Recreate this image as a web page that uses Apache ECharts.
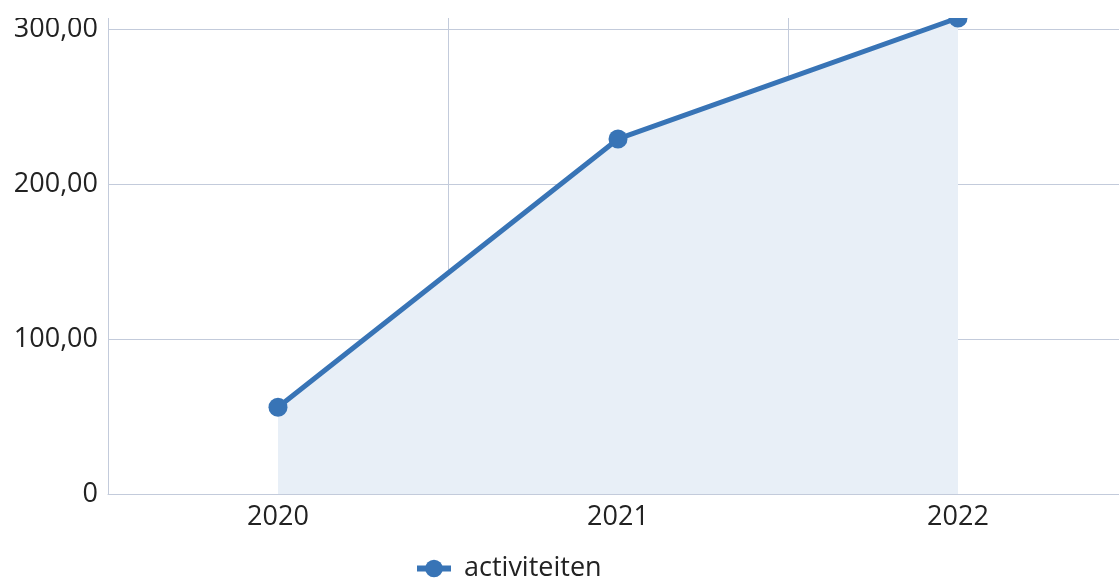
<!DOCTYPE html>
<html>
<head>
<meta charset="utf-8">
<script src="https://cdn.jsdelivr.net/npm/echarts@6/dist/echarts.min.js"></script>
<style>
html,body{margin:0;padding:0;background:#fff;overflow:hidden}
#main{width:1119px;height:562px;margin-top:18px}
</style>
</head>
<body>
<div id="main"></div>
<script>
let years = ["2020", "2021", "2022"]
let activiteiten = [56, 229, 307]
let yTicks = [0, 100, 200, 300]

function fmt(v) {
    if (v === 0) return "0"
    return v.toFixed(2).replace(".", ",")
}

function renderEcharts() {
    var myChart = echarts.init(document.getElementById('main'))
    var font = "'Open Sans', 'Noto Sans', sans-serif"
    var option = {
        animation: false,
        grid: { left: 108, width: 1020, top: 0, bottom: 86, outerBoundsMode: 'none', containLabel: false },
        legend: {
            top: 532,
            left: 409,
            itemWidth: 34,
            itemHeight: 22,
            textStyle: { fontFamily: font, fontSize: 27, color: '#222', padding: [0, 0, 0, 8] },
            lineStyle: { width: 6 },
            data: ['activiteiten']
        },
        xAxis: {
            type: 'category',
            data: years,
            boundaryGap: true,
            axisLine: { lineStyle: { color: '#c3cbdb' } },
            axisTick: { show: false },
            splitLine: { show: true, lineStyle: { color: '#c3cbdb' } },
            axisLabel: { fontFamily: font, fontSize: 27, color: '#222', margin: 10 }
        },
        yAxis: {
            type: 'value',
            min: 0,
            max: activiteiten[2],
            interval: 100,
            axisLine: { show: false },
            axisTick: { show: false },
            splitLine: { show: true, showMaxLine: false, lineStyle: { color: '#c3cbdb' } },
            axisLabel: {
                fontFamily: font, fontSize: 27, color: '#222', margin: 10,
                showMaxLabel: false,
                formatter: function (v) { return yTicks.indexOf(v) >= 0 ? fmt(v) : '' }
            }
        },
        series: [{
            name: 'activiteiten',
            type: 'line',
            data: activiteiten,
            symbol: 'circle',
            symbolSize: 19,
            itemStyle: { color: '#3874b6' },
            lineStyle: { width: 5, color: '#3874b6' },
            areaStyle: { color: '#e8eff7', opacity: 1 }
        }]
    }
    myChart.setOption(option)
}
renderEcharts()
</script>
</body>
</html>
